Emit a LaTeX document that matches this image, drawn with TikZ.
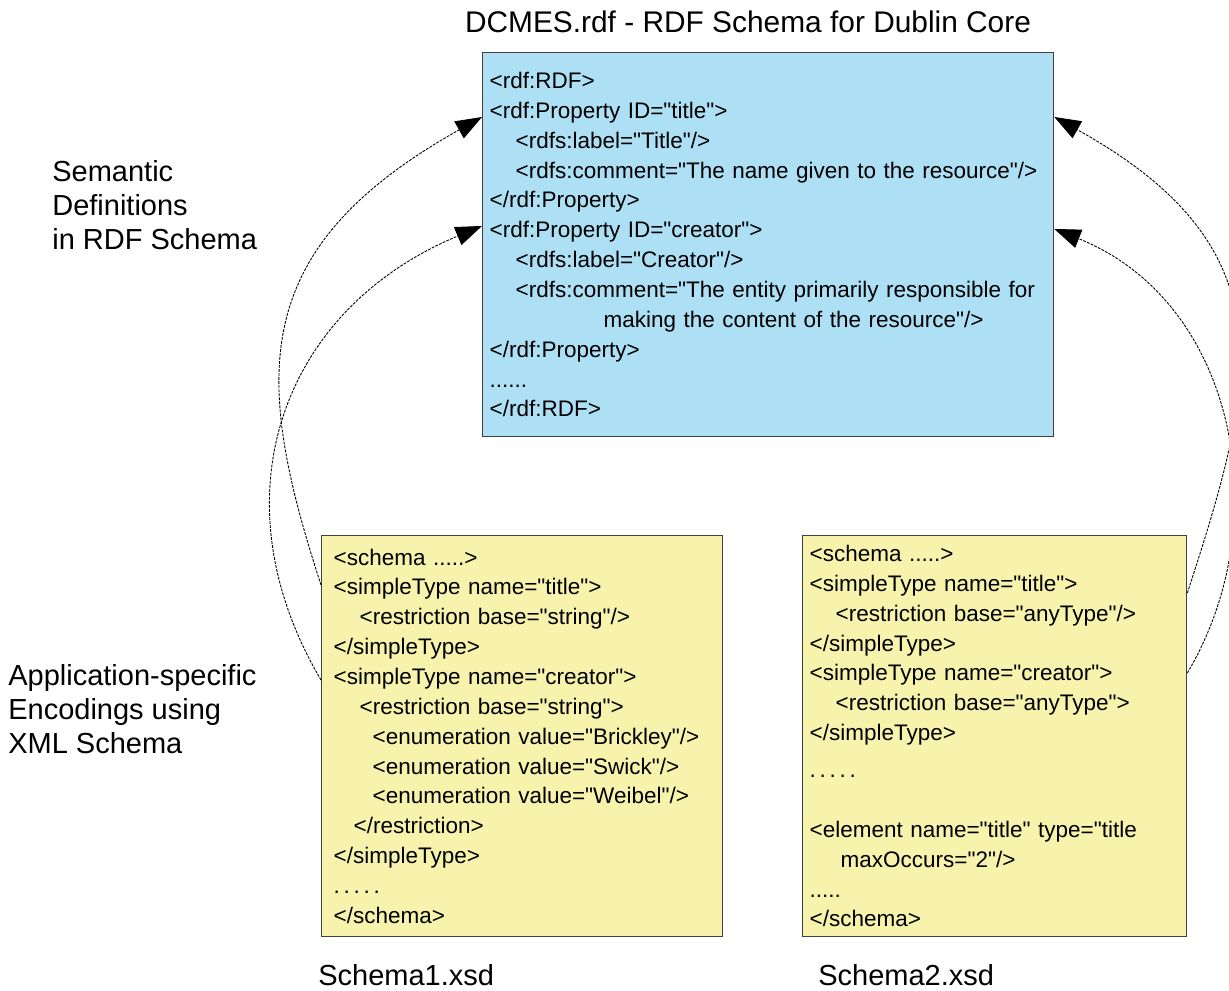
\documentclass[tikz,border=0pt]{standalone}
\usepackage{fontspec}
\setmainfont{Liberation Sans}[Ligatures=TeXOff]
\usepackage{tikz}
\usetikzlibrary{arrows.meta, positioning}
\definecolor{rdfblue}{RGB}{174,224,245}
\definecolor{xsdyellow}{RGB}{248,243,172}
\tikzstyle{arrow} = [line width=0.5pt, dash pattern=on 1.6pt off 0.7pt, -{Triangle[length=15pt, width=11pt]}]
\newcommand{\ind}[1]{\hspace*{#1}}

\begin{document}
\begin{tikzpicture}[x=0.02cm, y=-0.02cm,
		codebox/.style={rectangle, draw=black!75, line width=0.8pt, fill=#1, align=left, anchor=north west, inner ysep=0pt, font=\fontsize{12.8}{17}\selectfont},
		caption/.style={inner sep=0pt, align=left, anchor=west, font=\fontsize{16.5}{19.3}\selectfont}
		]
		\useasboundingbox (0,0) rectangle (1229,990);
		% RDF schema
		\node[codebox=rdfblue, inner xsep=0.14cm, text width=11.14cm, minimum height=7.68cm] (rdf) at (482,52) {%
			<rdf:RDF>\\
			<rdf:Property ID="title">\\
			\ind{0.52cm}<rdfs:label="Title"/>\\
			\ind{0.52cm}<rdfs:comment="The name given to the resource"/>\\
			</rdf:Property>\\
			<rdf:Property ID="creator">\\
			\ind{0.52cm}<rdfs:label="Creator"/>\\
			\ind{0.52cm}<rdfs:comment="The entity primarily responsible for\\
			\ind{2.28cm}making the content of the resource"/>\\
			</rdf:Property>\\
			......\\
			</rdf:RDF>\\[-4pt]};
		\node[font=\fontsize{17}{20}\selectfont, inner sep=0pt] (rdfname) at (748,22) {DCMES.rdf - RDF Schema for Dublin Core};
		% XML schema 1
		\node[codebox=xsdyellow, inner xsep=0.24cm, text width=7.54cm, minimum height=8.02cm] (xsdone) at (321,535) {%
			<schema .....>\\
			<simpleType name="title">\\
			\ind{0.52cm}<restriction base="string"/>\\
			</simpleType>\\
			<simpleType name="creator">\\
			\ind{0.52cm}<restriction base="string">\\
			\ind{0.78cm}<enumeration value="Brickley"/>\\
			\ind{0.78cm}<enumeration value="Swick"/>\\
			\ind{0.78cm}<enumeration value="Weibel"/>\\
			\ind{0.4cm}</restriction>\\
			</simpleType>\\
			.\,.\,.\,.\,.\\
			</schema>};
		\node[caption] (xsdonename) at (318,975) {Schema1.xsd};
		% XML schema 2
		\node[codebox=xsdyellow, inner xsep=0.14cm, text width=7.4cm, minimum height=8.02cm] (xsdtwo) at (802,535) {%
			<schema .....>\\
			<simpleType name="title">\\
			\ind{0.52cm}<restriction base="anyType"/>\\
			</simpleType>\\
			<simpleType name="creator">\\
			\ind{0.52cm}<restriction base="anyType">\\
			</simpleType>\\[4pt]
			.\,.\,.\,.\,.\\[17pt]
			<element name="title" type="title\\
			\ind{0.62cm}maxOccurs="2"/>\\
			.....\\
			</schema>};
		\node[caption] (xsdtwoname) at (818,975) {Schema2.xsd};
		% side captions
		\node[caption] (semantic) at (52,205) {Semantic\\Definitions\\in RDF Schema};
		\node[caption] (encoding) at (8,709) {Application-specific\\Encodings using\\XML Schema};
		% arrow ends
		\coordinate (rdftitleL) at ([yshift=-1.3cm]rdf.north west);
		\coordinate (rdfcreatorL) at ([yshift=-3.48cm]rdf.north west);
		\coordinate (rdftitleR) at ([yshift=-1.3cm]rdf.north east);
		\coordinate (rdfcreatorR) at ([yshift=-3.54cm]rdf.north east);
		\coordinate (onetitle) at ([yshift=-1.0cm]xsdone.north west);
		\coordinate (onecreator) at ([yshift=-2.9cm]xsdone.north west);
		\coordinate (twotitle) at ([yshift=-1.16cm]xsdtwo.north east);
		\coordinate (twocreator) at ([yshift=-2.76cm]xsdtwo.north east);
		\draw[arrow] (onetitle) .. controls +(-68,-209) and +(-235,132) .. (rdftitleL);
		\draw[arrow] (onecreator) .. controls +(-107,-181) and +(-202,84) .. (rdfcreatorL);
		\draw[arrow] (twotitle) .. controls +(68,-209) and +(238,132) .. (rdftitleR);
		\draw[arrow] (twocreator) .. controls +(92,-155) and +(180,72) .. (rdfcreatorR);
\end{tikzpicture}
\end{document}
